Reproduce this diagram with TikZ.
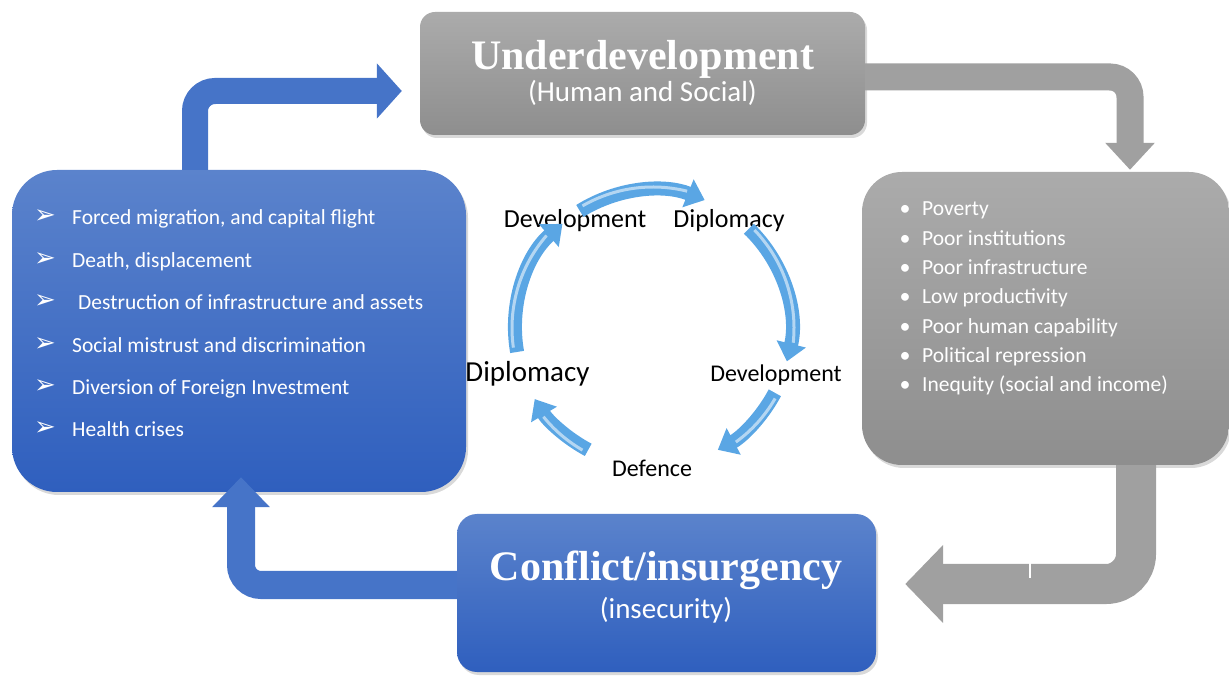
\documentclass[tikz,border=0pt]{standalone}
\usepackage{fontspec}
\setmainfont{Carlito}
\newfontfamily\headfont{Liberation Serif}
\newfontfamily\symfont{DejaVu Sans}
\usepackage{tikz}
\usetikzlibrary{arrows.meta,shadows,calc,positioning}

\definecolor{bluetop}{HTML}{5B83CC}
\definecolor{bluebot}{HTML}{2F5FBE}
\definecolor{graytop}{HTML}{ABABAB}
\definecolor{graybot}{HTML}{8E8E8E}
\definecolor{grayarr}{HTML}{A0A0A0}
\definecolor{bluearr}{HTML}{4674C8}
\definecolor{cycblue}{HTML}{5AA6E4}

\tikzset{
  bluebox/.style={top color=bluetop, bottom color=bluebot, drop shadow={opacity=.3,shadow xshift=2pt,shadow yshift=-3pt}},
  graybox/.style={top color=graytop, bottom color=graybot, drop shadow={opacity=.3,shadow xshift=2pt,shadow yshift=-3pt}},
  head/.style={font=\headfont\bfseries\fontsize{42}{46}\selectfont, text=white, anchor=base, inner sep=0pt},
  sub/.style={font=\fontsize{29}{33}\selectfont, text=white, anchor=base, inner sep=0pt},
  item/.style={font=\fontsize{21.5}{24}\selectfont, text=white, anchor=base west, inner sep=0pt},
  dot/.style={font=\fontsize{22}{24}\selectfont, text=white, anchor=base, inner sep=0pt},
  tri/.style={font=\symfont\fontsize{26}{28}\selectfont, text=white, anchor=base, inner sep=0pt},
  cyclabel/.style={text=black, anchor=base, inner sep=0pt},
  bandblue/.style={draw=bluearr, line width=27pt, rounded corners=20pt},
  bandgray/.style={draw=grayarr, line width=27pt, rounded corners=20pt},
  cycarrow/.style={draw=cycblue, line width=14pt, -{Triangle[width=29pt,length=18pt]}},
  cycshine/.style={draw=white, line width=3pt, opacity=.55},
}

\begin{document}
\begin{tikzpicture}[x=1pt,y=1pt]
\useasboundingbox (0,0) rectangle (1229,675);

% boxes
\node[graybox, rounded corners=15pt, minimum width=445pt, minimum height=123pt] (under) at (642.5,601.5) {};
\node[graybox, rounded corners=40pt, minimum width=367pt, minimum height=293pt] (rbox) at (1045.5,356.5) {};
\node[bluebox, rounded corners=45pt, minimum width=454pt, minimum height=322pt] (lbox) at (239,344) {};
\node[bluebox, rounded corners=20pt, minimum width=419pt, minimum height=158pt] (cbox) at (666.5,82) {};

% block arrows between the boxes
\draw[bandblue, line width=26pt, -{Triangle[width=54pt,length=25pt]}] ([xshift=-44pt]lbox.north) |- ([xshift=-18pt,yshift=-17.5pt]under.west);
\draw[bandgray, -{Triangle[width=48pt,length=27pt]}] ([yshift=-3.5pt]under.east) -| ([xshift=84.5pt,yshift=2pt]rbox.north);
\draw[bandgray, line width=40pt, rounded corners=30pt, -{Triangle[width=76pt,length=38pt]}] ([xshift=90.5pt]rbox.south) |- ([xshift=29pt,yshift=9pt]cbox.east);
\draw[bandblue, line width=28pt, -{Triangle[width=56pt,length=30pt]}] ([yshift=8pt]cbox.west) -| ([xshift=2pt,yshift=15pt]lbox.south);
\draw[white, line width=1.5pt] (1030,97) -- (1030,117);

% titles
\node[head] (underT) at (642.5,605) {Underdevelopment};
\node[sub] (underS) at (642.5,573) {(Human and Social)};
\node[head] (cboxT) at (666,95) {Conflict/insurgency};
\node[sub] (cboxS) at (666,57) {(insecurity)};

% right list
\foreach \t [count=\i] in {Poverty, Poor institutions, Poor infrastructure, Low productivity, Poor human capability, Political repression, Inequity (social and income)} {
  \node[dot] (rd\i) at (905,{459-29.3*(\i-1)}) {•};
  \node[item] (r\i) at (922,{459-29.3*(\i-1)}) {\t};
}

% left list
\node[tri] (lt1) at (45,451) {➢};
\node[item] (l1) at (72,450) {Forced migration, and capital flight};
\node[tri] (lt2) at (45,408.6) {➢};
\node[item] (l2) at (72,407.6) {Death, displacement};
\node[tri] (lt3) at (45,366.2) {➢};
\node[item] (l3) at (78,365.2) {Destruction of infrastructure and assets};
\node[tri] (lt4) at (45,323.8) {➢};
\node[item] (l4) at (72,322.8) {Social mistrust and discrimination};
\node[tri] (lt5) at (45,281.4) {➢};
\node[item] (l5) at (72,280.4) {Diversion of Foreign Investment};
\node[tri] (lt6) at (45,239) {➢};
\node[item] (l6) at (72,238) {Health crises};

% the cycle in the middle
\coordinate (cyc) at (653,347);
\node[cyclabel, font=\fontsize{26}{30}\selectfont] (dev1) at (575,447) {Development};
\node[cyclabel, font=\fontsize{26}{30}\selectfont] (dip1) at (729,447) {Diplomacy};
\node[cyclabel, font=\fontsize{24}{28}\selectfont] (dev2) at (776,293) {Development};
\node[cyclabel, font=\fontsize{24}{28}\selectfont] (def) at (652,198) {Defence};
\node[cyclabel, font=\fontsize{29}{33}\selectfont] (dip2) at (527.5,293) {Diplomacy};
\foreach \a/\b in {190/131, 122/68, 46/-14, -28/-62, 242/211} {
  \draw[cycarrow] ($(cyc)+(\a:138)$) arc[start angle=\a, end angle=\b, radius=138];
  \draw[cycshine] ($(cyc)+({\a-2}:141)$) arc[start angle={\a-2}, end angle={\b+8}, radius=141];
}
\end{tikzpicture}
\end{document}
